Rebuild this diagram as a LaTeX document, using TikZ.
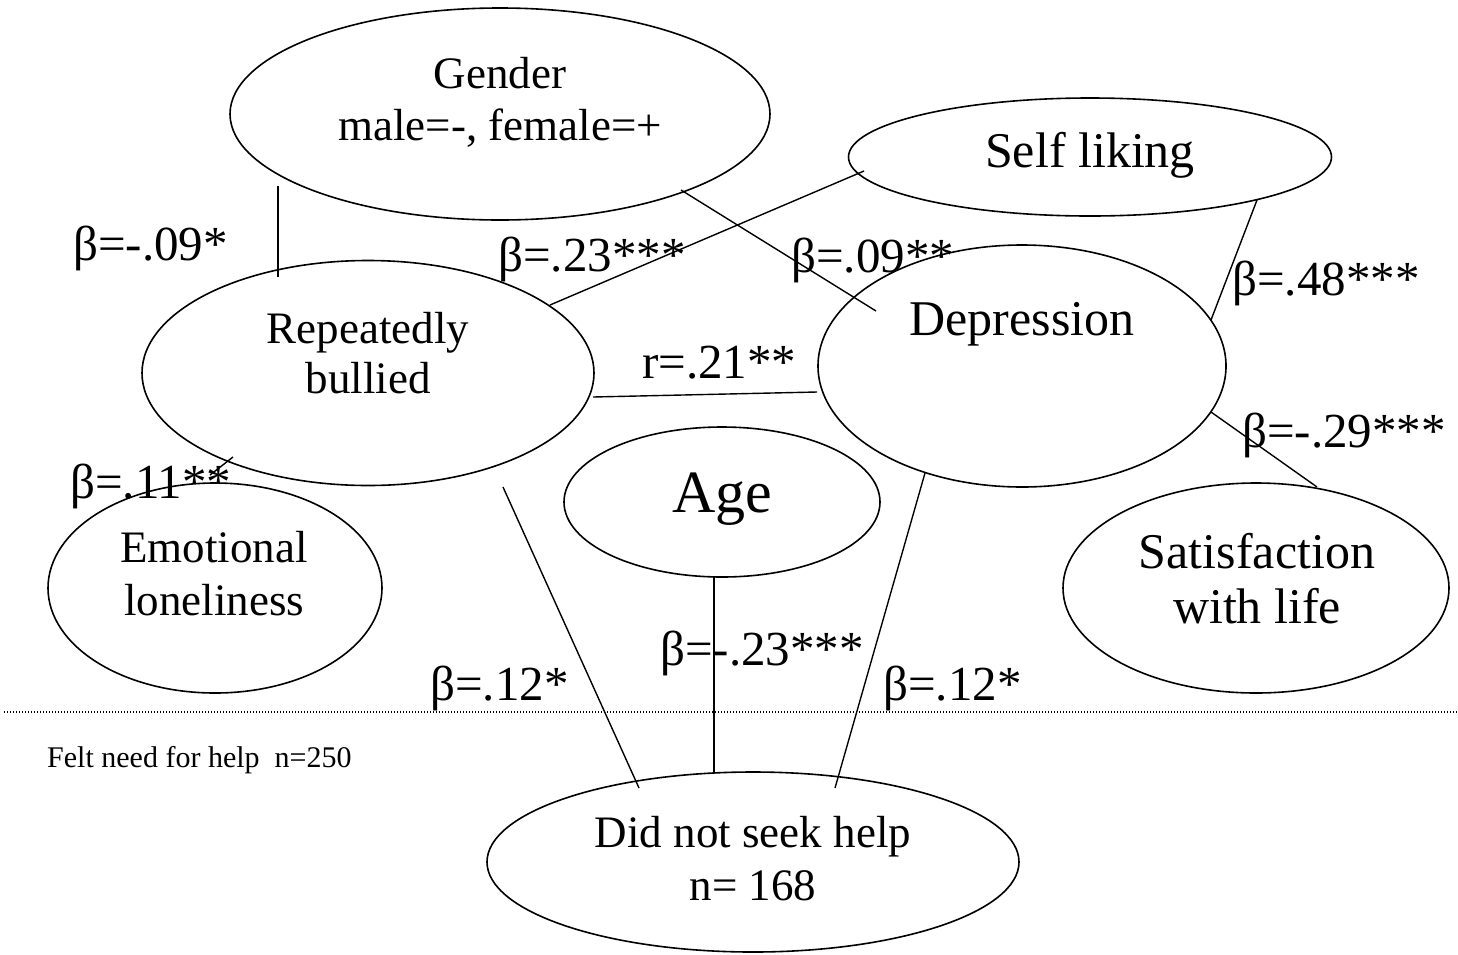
\documentclass[tikz,border=0pt]{standalone}
\usepackage{fontspec}
\setmainfont{Liberation Serif}
\usetikzlibrary{shapes.geometric}
\begin{document}
\begin{tikzpicture}[x=1pt,y=-1pt,
  ell/.style={draw, ellipse, line width=1.6pt, inner sep=0pt},
  conn/.style={line width=1.4pt},
  sepline/.style={line width=1.3pt, dash pattern=on 1.3pt off 1.7pt},
  lab/.style={anchor=base west, inner sep=0pt, font=\fontsize{49}{53}\selectfont},
  ttl/.style={anchor=base, inner sep=0pt, font=\fontsize{45}{50}\selectfont},
  ttlb/.style={anchor=base, inner sep=0pt, font=\fontsize{50}{55}\selectfont}
]
\useasboundingbox (0,0) rectangle (1458,954);

% ellipses
\node[ell, minimum width=540pt, minimum height=212pt] (gen) at (500,114) {};
\node[ell, minimum width=483pt, minimum height=118pt] (self) at (1090,157) {};
\node[ell, minimum width=452pt, minimum height=225pt] (bul) at (368,373) {};
\node[ell, minimum width=408pt, minimum height=242pt] (dep) at (1022,366) {};
\node[ell, minimum width=316pt, minimum height=150pt] (age) at (722,502) {};
\node[ell, minimum width=334pt, minimum height=210pt] (el) at (215,588) {};
\node[ell, minimum width=386pt, minimum height=210pt] (sat) at (1256,588) {};
\node[ell, minimum width=532pt, minimum height=180pt] (dns) at (753,862) {};

% ellipse texts
\node[ttl] (gent1) at (500,88) {Gender};
\node[ttl] (gent2) at (500,140) {male=-, female=+};
\node[ttlb] (selft) at (1090,167) {Self liking};
\node[ttl] (bult1) at (368,343) {Repeatedly};
\node[ttl] (bult2) at (368,393) {bullied};
\node[ttlb] (dept) at (1022,335) {Depression};
\node[anchor=base, inner sep=0pt, font=\fontsize{60}{66}\selectfont] (aget) at (722,512) {Age};
\node[ttl] (elt1) at (214,562) {Emotional};
\node[ttl] (elt2) at (214,615) {loneliness};
\node[ttlb] (satt1) at (1257,568) {Satisfaction};
\node[ttlb] (satt2) at (1257,623) {with life};
\node[ttl] (dnst1) at (753,847) {Did not seek help};
\node[ttl] (dnst2) at (753,900) {n= 168};

% connector end points
\coordinate (g1) at (278,186);  \coordinate (b1) at (278,277);
\coordinate (b2) at (550,305);  \coordinate (s1) at (864,171);
\coordinate (g2) at (681,190);  \coordinate (d1) at (876,311);
\coordinate (s2) at (1257,200); \coordinate (d2) at (1211,320);
\coordinate (b3) at (593,397);  \coordinate (d3) at (817,392);
\coordinate (d4) at (1211,412); \coordinate (sa1) at (1317,487);
\coordinate (b4) at (503,487);  \coordinate (n1) at (639,788);
\coordinate (a1) at (714,577);  \coordinate (n2) at (714,773);
\coordinate (d5) at (925,473);  \coordinate (n3) at (835,788);
\coordinate (e1) at (210,475);  \coordinate (b5) at (233,457);

\draw[conn] (g1) -- (b1);
\draw[conn] (b2) -- (s1);
\draw[conn] (g2) -- (d1);
\draw[conn] (s2) -- (d2);
\draw[conn] (b3) -- (d3);
\draw[conn] (d4) -- (sa1);
\draw[conn] (b4) -- (n1);
\draw[conn] (a1) -- (n2);
\draw[conn] (d5) -- (n3);
\draw[conn] (e1) -- (b5);

% separator
\coordinate (sepL) at (4,712);
\coordinate (sepR) at (1458,712);
\draw[sepline] (sepL) -- (sepR);

% labels
\node[lab] (l1) at (73,260) {β=-.09*};
\node[lab] (l2) at (498,271) {β=.23***};
\node[lab] (l3) at (791,272) {β=.09**};
\node[lab] (l4) at (1232,295) {β=.48***};
\node[lab] (l5) at (642,378) {r=.21**};
\node[lab] (l6) at (1242,447) {β=-.29***};
\node[lab] (l7) at (70,498) {β=.11**};
\node[lab] (l8) at (430,700) {β=.12*};
\node[lab] (l9) at (660,665) {β=-.23***};
\node[lab] (l10) at (883,700) {β=.12*};
\node[anchor=base west, inner sep=0pt, font=\fontsize{30}{34}\selectfont] (felt) at (47,767) {Felt need for help\hspace{0.25em} n=250};
\end{tikzpicture}
\end{document}
